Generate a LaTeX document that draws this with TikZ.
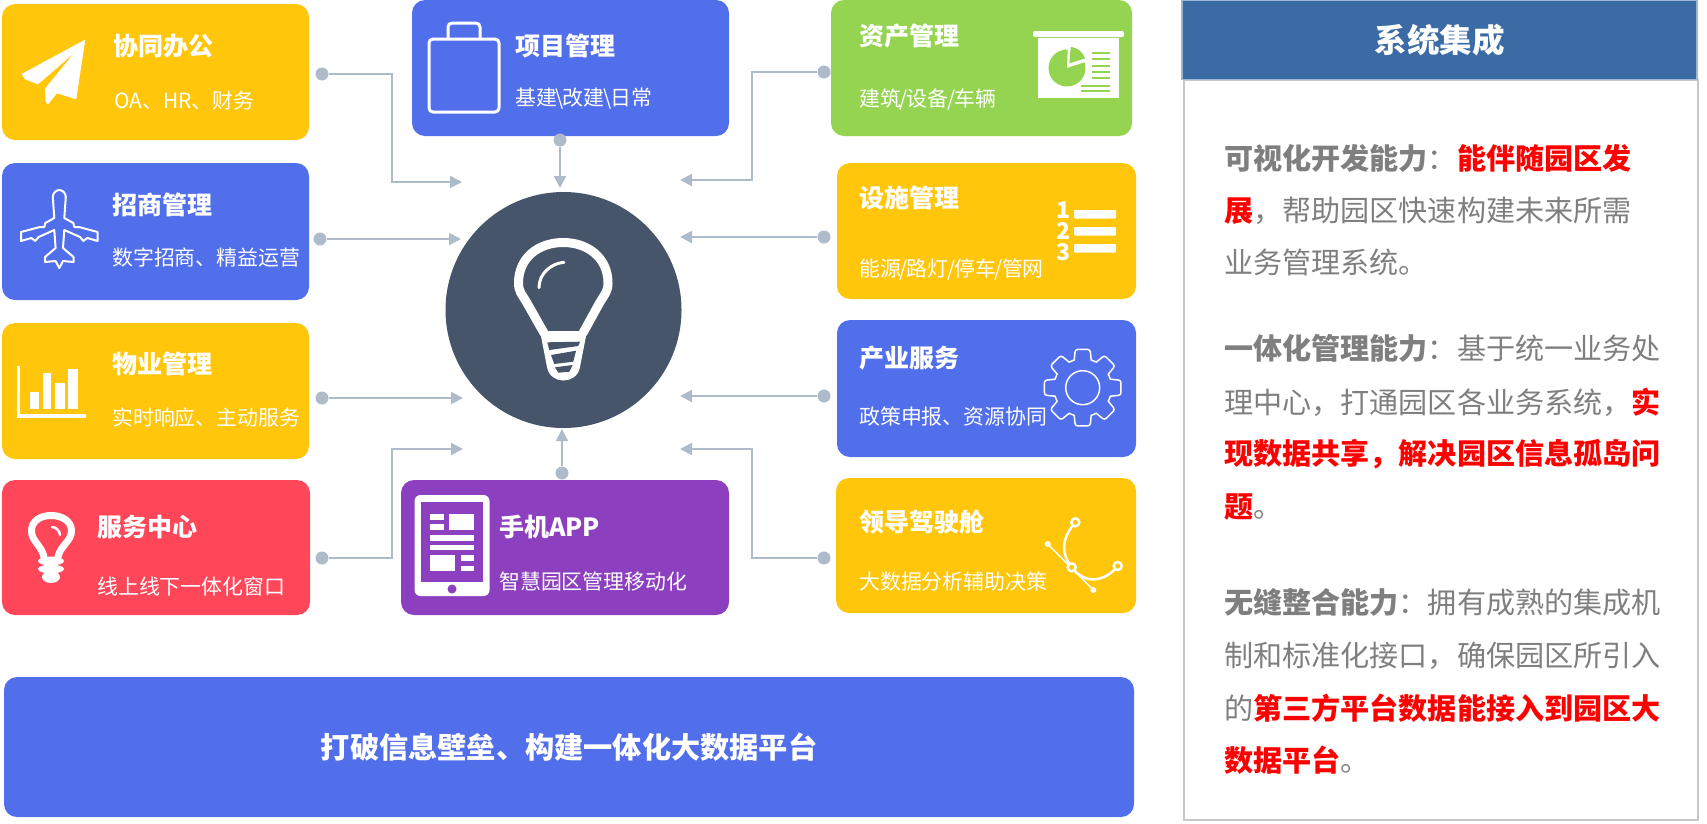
\documentclass[tikz,border=0pt]{standalone}
\usepackage{fontspec}
\setmainfont{Noto Sans CJK SC}
\usepackage{xcolor}
\usetikzlibrary{arrows.meta,calc}
\definecolor{amberc}{HTML}{FFC60B}
\definecolor{bluec}{HTML}{516EEB}
\definecolor{greenc}{HTML}{94D451}
\definecolor{redc}{HTML}{FF4759}
\definecolor{purplec}{HTML}{8C3FBF}
\definecolor{hubc}{HTML}{465569}
\definecolor{linkc}{HTML}{ADBBCB}
\definecolor{headc}{HTML}{3B6BA5}
\definecolor{headl}{HTML}{9DB4D2}
\definecolor{panell}{HTML}{C8C8C8}
\definecolor{parac}{HTML}{7F7F7F}
\newcommand{\redbf}[1]{\textbf{\textcolor{red}{#1}}}
\newcommand{\fwd}{\kern-1.2pt/\kern-1.2pt}
\newcommand{\bwd}{\kern-1.2pt\textbackslash\kern-1.2pt}
\tikzset{
    card/.style={rounded corners=13pt, inner sep=0pt, outer sep=0pt},
    cardtitle/.style={anchor=base west, inner sep=0pt, text=white, font=\fontsize{25}{25}\selectfont\bfseries},
    cardsub/.style={anchor=base west, inner sep=0pt, text=white, font=\fontsize{20.9}{21}\selectfont},
    para/.style={anchor=base west, inner sep=0pt, text=parac, font=\fontsize{29.1}{30}\selectfont},
    dot/.style={circle, fill=linkc, inner sep=0pt, minimum size=13pt},
    link/.style={draw=linkc, line width=2pt, -{Triangle[length=12pt,width=12pt]}},
    iconline/.style={draw=white, line width=2.5pt, line join=round, line cap=round},
    iconfill/.style={fill=white}
}
\begin{document}
\begin{tikzpicture}[x=1pt,y=-1pt]
    \useasboundingbox (0,0) rectangle (1707,823);
    % Left column
    \node[card, fill=amberc, minimum width=307pt, minimum height=136pt] (xietong) at (155.5,72) {};
    \node[cardtitle] (xietongT) at (113.5,55) {协同办公};
    \node[cardsub] (xietongS) at (114,108) {OA、HR、财务};
    \node[card, fill=bluec, minimum width=307pt, minimum height=137pt] (zhaoshang) at (155.5,231.5) {};
    \node[cardtitle] (zhaoshangT) at (112,214) {招商管理};
    \node[cardsub] (zhaoshangS) at (112,265) {数字招商、精益运营};
    \node[card, fill=amberc, minimum width=307pt, minimum height=136pt] (wuye) at (155.5,391) {};
    \node[cardtitle] (wuyeT) at (112.5,373) {物业管理};
    \node[cardsub] (wuyeS) at (112,425) {实时响应、主动服务};
    \node[card, fill=redc, minimum width=308pt, minimum height=135pt] (fuwu) at (156,547.5) {};
    \node[cardtitle] (fuwuT) at (97,536) {服务中心};
    \node[cardsub] (fuwuS) at (97,594) {线上线下一体化窗口};
    % Middle column
    \node[card, fill=bluec, minimum width=317pt, minimum height=136pt] (xiangmu) at (570.5,68) {};
    \node[cardtitle] (xiangmuT) at (515,55) {项目管理};
    \node[cardsub] (xiangmuS) at (515,105) {基建\bwd 改建\bwd 日常};
    \node[card, fill=purplec, minimum width=328pt, minimum height=135pt] (shouji) at (565,547.5) {};
    \node[cardtitle] (shoujiT) at (499,536) {手机APP};
    \node[cardsub] (shoujiS) at (499,589) {智慧园区管理移动化};
    % Right column
    \node[card, fill=greenc, minimum width=301pt, minimum height=136pt] (zichan) at (981.5,68) {};
    \node[cardtitle] (zichanT) at (859,45) {资产管理};
    \node[cardsub] (zichanS) at (859,106) {建筑\fwd 设备\fwd 车辆};
    \node[card, fill=amberc, minimum width=299pt, minimum height=136pt] (sheshi) at (986.5,231) {};
    \node[cardtitle] (sheshiT) at (859,207) {设施管理};
    \node[cardsub] (sheshiS) at (859,276) {能源\fwd 路灯\fwd 停车\fwd 管网};
    \node[card, fill=bluec, minimum width=299pt, minimum height=137pt] (chanye) at (986.5,388.5) {};
    \node[cardtitle] (chanyeT) at (859,367) {产业服务};
    \node[cardsub] (chanyeS) at (859,424) {政策申报、资源协同};
    \node[card, fill=amberc, minimum width=300pt, minimum height=135pt] (lingdao) at (986,545.5) {};
    \node[cardtitle] (lingdaoT) at (859,531) {领导驾驶舱};
    \node[cardsub] (lingdaoS) at (859,589) {大数据分析辅助决策};
    % Bottom bar
    \node[card, fill=bluec, text=white, minimum width=1130pt, minimum height=140pt,
        font=\fontsize{29.2}{30}\selectfont\bfseries] (platform) at (569,747) {打破信息壁垒、构建一体化大数据平台};
    % Hub
    \node[circle, fill=hubc, inner sep=0pt, minimum size=236pt] (hub) at (563.5,310) {};
    % Connectors
    \foreach \name/\x/\y in {dA/322/74, dB/320/239, dC/322/398, dD/322/558, dE/560/140, dF/562/473,
        dG/824/72, dH/824/237, dI/824/396, dJ/824/558} {
        \node[dot] (\name) at (\x,\y) {};
    }
    \coordinate (tA) at (462,182);
    \coordinate (tB) at (461,239);
    \coordinate (tC) at (463,398);
    \coordinate (tD) at (463,449);
    \coordinate (tE) at (560,188);
    \coordinate (tF) at (562,429);
    \coordinate (tG) at (680,180);
    \coordinate (tH) at (680,237);
    \coordinate (tI) at (680,396);
    \coordinate (tJ) at (680,449);
    \coordinate (bendL) at (392,0);
    \coordinate (bendR) at (752,0);
    \draw[link] (dA) -- (dA -| bendL) -- (tA -| bendL) -- (tA);
    \draw[link] (dB) -- (tB);
    \draw[link] (dC) -- (tC);
    \draw[link] (dD) -- (dD -| bendL) -- (tD -| bendL) -- (tD);
    \draw[link] (dE) -- (tE);
    \draw[link] (dF) -- (tF);
    \draw[link] (dG) -- (dG -| bendR) -- (tG -| bendR) -- (tG);
    \draw[link] (dH) -- (tH);
    \draw[link] (dI) -- (tI);
    \draw[link] (dJ) -- (dJ -| bendR) -- (tJ -| bendR) -- (tJ);
    % Hub bulb
    \draw[iconline, line width=9pt] (544,333) -- (527,303) .. controls (521,293) and (518.5,291) .. (518.5,283)
        .. controls (518.5,258) and (538,242.5) .. (563.3,242.5)
        .. controls (588,242.5) and (608,258) .. (608,283)
        .. controls (608,291) and (605.5,293) .. (599.5,303) -- (583,333);
    \fill[iconfill] (540,331) -- (587,331) -- (580,367) .. controls (577,385) and (550,385) .. (547,367) -- cycle;
    \fill[hubc] (547.3,342.3) -- (580,341.7) -- (578.3,346) -- (549.3,350) -- cycle;
    \fill[hubc] (551,355) -- (576,350.7) -- (573.3,361.7) -- (554.3,364) -- cycle;
    \fill[hubc] (555,367.3) -- (572.7,365) -- (569.3,371.7) -- (558.3,372.7) -- cycle;
    \draw[iconline, line width=3pt] (539,287.7) .. controls (539,273) and (551.7,263.3) .. (564,262.3);
    % Paper plane
    \fill[iconfill, draw=white, line join=round] (85,40) -- (22,74) -- (25,79) -- (38,84) -- (74,53) -- cycle;
    \fill[iconfill, draw=white, line join=round] (85,40) -- (45,89) -- (46,102) -- (48,104) -- (57,93) -- (76,99) -- cycle;
    % Plane
    \foreach \s in {1,-1} {
        \draw[iconline, line width=2pt, shift={(59.3,0)}, xscale=\s] (0,190) .. controls (4,190) and (6.5,194) .. (6.5,197) -- (5,218)
            -- (14,223) -- (15,227) -- (19.5,227) -- (38.3,232) -- (38.3,241) -- (28,238) -- (24,241) -- (20.7,237) -- (5,230)
            -- (3.7,248) -- (14.2,257) -- (14.2,262) -- (3.7,261) -- (0,268);
    }
    % Bar chart
    \fill[iconfill] (16.5,366) rectangle (20,418);
    \fill[iconfill] (16.5,414) rectangle (86,418);
    \foreach \xa/\xb/\ytop in {30/39/392, 43/51/373, 55/64.5/383, 68/77.5/369} {
        \fill[iconfill] (\xa,\ytop) rectangle (\xb,409);
    }
    % Small bulb
    \draw[iconline, line width=7pt] (44,557) .. controls (42,546) and (31.5,541) .. (31.5,531)
        .. controls (31.5,521) and (40,515.5) .. (51,515.5) .. controls (62,515.5) and (71.5,521) .. (71.5,531)
        .. controls (71.5,541) and (60,546) .. (58,557);
    \draw[iconline] (52,527) .. controls (56,527) and (60,531) .. (60,535);
    \foreach \yy/\rx/\ry in {561/13/4.5, 569/13/4.5, 577/9/6} {
        \fill[iconfill] (51,\yy) ellipse (\rx pt and \ry pt);
    }
    % Bag
    \draw[iconline, line width=3pt, rounded corners=4pt] (429,39) rectangle (499,112);
    \draw[iconline, line width=3pt, rounded corners=4pt] (448,39) -- (448,23) -- (480,23) -- (480,39);
    % Tablet
    \fill[iconfill, rounded corners=6pt] (414.5,495) rectangle (489.5,596);
    \fill[purplec] (421,502) rectangle (483,582);
    \fill[purplec] (452,589) circle (4.5);
    \foreach \xa/\ya/\xb/\yb in {430/514/443.5/520, 430/524/443.5/530, 449/514/474/530, 430/535/474/541,
        430/545/474/550, 430/555/455/571, 461/555/474/561, 461/566/474/571} {
        \fill[iconfill] (\xa,\ya) rectangle (\xb,\yb);
    }
    % Board and pie
    \fill[iconfill, rounded corners=2pt] (1033,31) rectangle (1124,37);
    \fill[iconfill] (1038,38) rectangle (1119,98);
    \fill[greenc] (1067,68) -- ++(-18:18.5) arc[start angle=-18, end angle=272, radius=18.5] -- cycle;
    \fill[greenc] (1069.3,63.3) -- ++(-85:16.5) arc[start angle=-85, end angle=-17, radius=16.5] -- cycle;
    \foreach \yy in {53,59,66,72,78} {
        \draw[greenc, line width=1.5pt] (1092,\yy) -- (1110,\yy);
    }
    \foreach \yy in {86,91} {
        \draw[greenc, line width=1.5pt] (1081,\yy) -- (1110,\yy);
    }
    % Numbered list
    \foreach \n/\yy/\ya in {1/218/210, 2/239/227, 3/260/244} {
        \node[anchor=base, inner sep=0pt, text=white, font=\fontsize{23}{23}\selectfont\bfseries] (num\n) at (1063,\yy) {\n};
        \fill[iconfill, rounded corners=1pt] (1074,\ya) rectangle (1116,\ya+8.5);
    }
    % Gear
    \begin{scope}[shift={(1082.7,387.7)}]
        \draw[iconline, line width=1.5pt] (0,0) circle (17);
        \foreach \a in {0,45,...,315} {
            \draw[iconline, line width=1.5pt, rounded corners=2.5pt] ({\a-17}:29) -- ({\a-11}:39) -- ({\a+11}:39) -- ({\a+17}:29);
            \draw[iconline, line width=1.5pt] ({\a+17}:29) arc[start angle=\a+17, end angle=\a+28, radius=29];
        }
    \end{scope}
    % Curve handles
    \draw[iconline, line width=1.5pt] (1047.7,544) -- (1093.3,590);
    \draw[iconline] (1075.3,522.3) .. controls (1060,540) and (1062,555) .. (1071.7,567.3);
    \draw[iconline] (1071.7,567.3) .. controls (1085,585) and (1105,582) .. (1117.7,566);
    \fill[iconfill] (1047.7,544) circle (3) (1093.3,590) circle (3);
    \foreach \x/\y in {1071.7/567.3, 1075.3/522.3, 1117.7/566} {
        \filldraw[draw=white, fill=amberc, line width=2.5pt] (\x,\y) circle (4);
    }
    % Right panel
    \node[draw=panell, line width=2pt, inner sep=0pt, outer sep=0pt, minimum width=514pt, minimum height=740pt] (panel) at (1441,450) {};
    \node[draw=headl, line width=1.2pt, fill=headc, text=white, inner sep=0pt, outer sep=0pt, minimum width=515pt, minimum height=79pt,
        font=\fontsize{32.5}{33}\selectfont\bfseries] (header) at (1439.5,40) {系统集成};
    \foreach \n/\yy/\txt in {
        1/169/{\textbf{可视化开发能力}：\redbf{能伴随园区发}},
        2/221/{\redbf{展}，帮助园区快速构建未来所需},
        3/273/{业务管理系统。},
        4/359/{\textbf{一体化管理能力}：基于统一业务处},
        5/413/{理中心，打通园区各业务系统，\redbf{实}},
        6/464/{\redbf{现数据共享，解决园区信息孤岛问}},
        7/517/{\redbf{题}。},
        8/613/{\textbf{无缝整合能力}：拥有成熟的集成机},
        9/666/{制和标准化接口，确保园区所引入},
        10/719/{的\redbf{第三方平台数据能接入到园区大}},
        11/771/{\redbf{数据平台}。}} {
        \node[para] (line\n) at (1224,\yy) {\txt};
    }
\end{tikzpicture}
\end{document}
